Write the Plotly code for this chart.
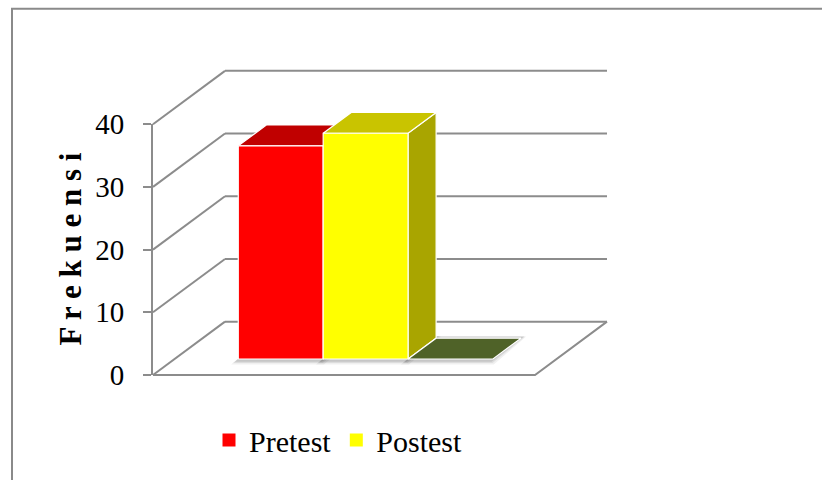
import plotly.graph_objects as go

# ---------------- data ----------------
series_names = ["Pretest", "Postest", "Series3"]
series_values = [34, 36, 0]
series_in_legend = [True, True, False]
front_colors = ["#FF0000", "#FFFF00", "#4F6228"]
top_colors = ["#C00000", "#C9C400", "#4F6228"]
side_colors = ["#A00000", "#A9A500", "#3B4A1E"]
y_ticks = [0, 10, 20, 30, 40]
y_title = "F r e k u e n s i"

# ---------------- geometry of the pseudo-3D view ----------------
FONT = "Liberation Serif, Times New Roman, serif"
GRID = "#8c8c8c"
L, R, T, B = 100, 160, 60, 90
W_PX, H_PX = 822 - L - R, 480 - T - B
AX_PX = 153            # pixel column of the front value axis
ZERO_PX = 379          # pixel row of value 0 on the front plane
PPU = 6.35             # pixels per value unit
FLOOR_W = 382          # floor width in x units (1 unit = 1 px)
DX = 72                # depth shift in x units (front -> back wall)
DYV = 54 / PPU         # depth shift in value units
GAP = 1.5              # gap width (fraction of bar width)
D0, D1 = 0.30, 0.69    # bar depth span (fraction of floor depth)

def proj(x, v, d):
    return x + d * DX, v + d * DYV

def poly(points):
    xs, ys = zip(*[proj(*p) for p in points])
    return list(xs) + [xs[0]], list(ys) + [ys[0]]

fig = go.Figure()

# walls / floor lines
gx, gy = [], []
for t in y_ticks:
    for p in (proj(0, t, 1), proj(FLOOR_W, t, 1)):
        gx.append(p[0]); gy.append(p[1])
    gx.append(None); gy.append(None)
    for p in (proj(0, t, 0), proj(0, t, 1)):
        gx.append(p[0]); gy.append(p[1])
    gx.append(None); gy.append(None)
for p in (proj(0, 0, 0), proj(FLOOR_W, 0, 0), proj(FLOOR_W, 0, 1)):
    gx.append(p[0]); gy.append(p[1])
fig.add_trace(go.Scatter(x=gx, y=gy, mode="lines", line=dict(color=GRID, width=2),
                         hoverinfo="skip", showlegend=False))

n = len(series_values)
bw = FLOOR_W / (n + GAP)
x_start = GAP * bw / 2

# soft shadows
for i, v in enumerate(series_values):
    x0 = x_start + i * bw
    for grow, alpha in ((5, 0.06), (3, 0.08), (1.5, 0.10)):
        sx, sy = poly([(x0 - grow, -grow / PPU * 0.8, D0 - 0.03),
                       (x0 + bw + grow * 0.6, -grow / PPU * 0.8, D0 - 0.03),
                       (x0 + bw + grow * 0.6, 0, D1 + 0.03),
                       (x0 - grow, 0, D1 + 0.03)])
        fig.add_trace(go.Scatter(x=sx, y=sy, mode="lines", fill="toself",
                                 fillcolor=f"rgba(0,0,0,{alpha})", line=dict(width=0),
                                 hoverinfo="skip", showlegend=False))

# bars
for i, v in enumerate(series_values):
    x0 = x_start + i * bw
    x1 = x0 + bw
    faces = []
    if v > 0:
        faces.append((side_colors[i], [(x1, 0, D0), (x1, 0, D1), (x1, v, D1), (x1, v, D0)]))
    faces.append((top_colors[i], [(x0, v, D0), (x1, v, D0), (x1, v, D1), (x0, v, D1)]))
    if v > 0:
        faces.append((front_colors[i], [(x0, 0, D0), (x1, 0, D0), (x1, v, D0), (x0, v, D0)]))
    for col, pts in faces:
        fx, fy = poly(pts)
        fig.add_trace(go.Scatter(x=fx, y=fy, mode="lines", fill="toself", fillcolor=col,
                                 line=dict(color="white", width=1.2),
                                 name=series_names[i], hoverinfo="skip", showlegend=False))

# legend entries
for i, name in enumerate(series_names):
    if series_in_legend[i]:
        fig.add_trace(go.Scatter(x=[None], y=[None], mode="markers", name=name,
                                 marker=dict(symbol="square", size=13, color=front_colors[i]),
                                 showlegend=True))

# front value axis (real axis on its own overlapping subplot)
fig.add_trace(go.Scatter(x=[None], y=[None], xaxis="x2", yaxis="y2", showlegend=False))

y_lo = -(480 - B - ZERO_PX) / PPU
y_hi = (ZERO_PX - T) / PPU
x_lo = L - AX_PX
fig.update_layout(
    width=822, height=480,
    margin=dict(l=L, r=R, t=T, b=B),
    paper_bgcolor="white", plot_bgcolor="rgba(0,0,0,0)",
    font=dict(family=FONT, color="black"),
    xaxis=dict(range=[x_lo, x_lo + W_PX], visible=False, domain=[0, 1]),
    yaxis=dict(range=[y_lo, y_hi], visible=False, domain=[0, 1]),
    xaxis2=dict(range=[0, 1], visible=False, anchor="y2",
                domain=[(AX_PX - L) / W_PX, 1]),
    yaxis2=dict(range=[0, y_ticks[-1]], anchor="x2",
                domain=[(480 - B - ZERO_PX) / H_PX,
                        (480 - B - (ZERO_PX - y_ticks[-1] * PPU)) / H_PX],
                tickvals=y_ticks, ticktext=[str(t) for t in y_ticks],
                showline=True, linecolor=GRID, linewidth=2,
                ticks="outside", ticklen=8, tickcolor=GRID, tickwidth=2,
                showgrid=False, zeroline=False, ticklabelstandoff=13,
                tickfont=dict(family=FONT, size=29, color="black")),
    showlegend=True,
    legend=dict(orientation="h", xref="container", yref="container",
                x=209 / 822, y=1 - 440 / 480, xanchor="left", yanchor="middle",
                font=dict(family=FONT, size=30, color="black"),
                itemwidth=30, tracegroupgap=0,
                bgcolor="rgba(0,0,0,0)", itemclick=False),
    annotations=[dict(text="<b>" + y_title + "</b>", textangle=-90,
                      xref="paper", yref="paper",
                      x=(71 - L) / W_PX, y=(480 - B - 252) / H_PX,
                      xanchor="center", yanchor="middle", showarrow=False,
                      font=dict(family=FONT, size=31, color="black"))],
    shapes=[dict(type="rect", xref="paper", yref="paper",
                 x0=(12 - L) / W_PX, x1=(840 - L) / W_PX,
                 y0=(480 - B - 500) / H_PX, y1=(480 - B - 8) / H_PX,
                 line=dict(color="#8a8a8a", width=2), fillcolor="rgba(0,0,0,0)",
                 layer="above")],
)

fig.write_html("out.html")
